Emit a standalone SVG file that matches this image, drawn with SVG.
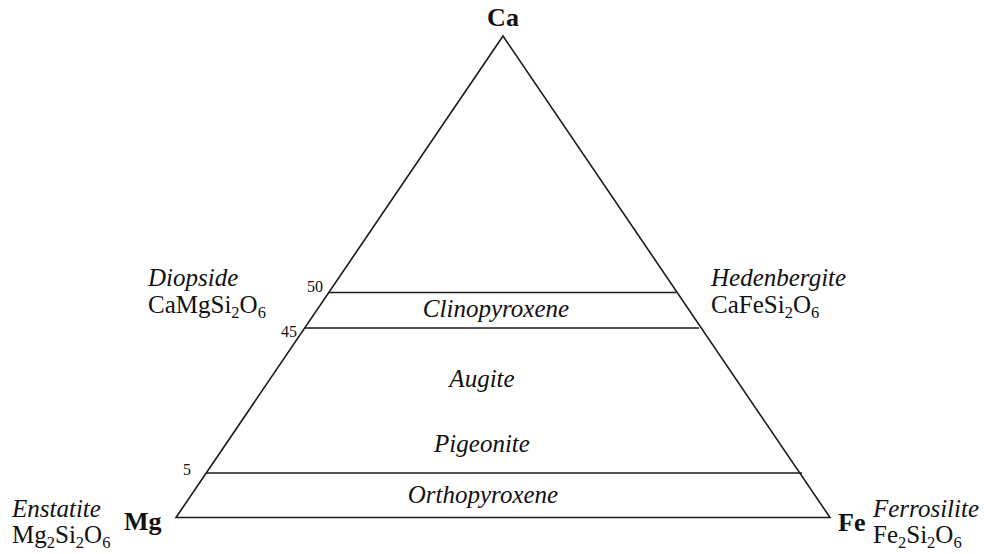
<svg xmlns="http://www.w3.org/2000/svg" width="995" height="554" viewBox="0 0 995 554">
<style>
.lab{font-size:25px}
.it{font-style:italic}
.b{font-weight:bold;font-size:26px}
.num{font-size:16px}
.sub{font-size:16.5px}
.ln{stroke:#1a1a1a;stroke-width:1.6;fill:none}
</style>
<rect width="995" height="554" fill="#fff"/>
<g id="connectors">
<polygon class="ln" points="503,36 176,517.5 830,517.5"/>
<line class="ln" x1="329" y1="292.5" x2="676" y2="292.5"/>
<line class="ln" x1="304" y1="328" x2="699" y2="328"/>
<line class="ln" x1="206" y1="473" x2="802" y2="473"/>
</g>
<g font-family="Liberation Serif, serif" fill="#111">
<g id="apex-ca"><text class="b" x="503" y="26" text-anchor="middle">Ca</text></g>
<g id="corner-mg"><text class="b" x="124" y="530">Mg</text></g>
<g id="corner-fe"><text class="b" x="838" y="531">Fe</text></g>
<g id="diopside">
<text class="lab it" x="148" y="286">Diopside</text>
<text class="lab" x="148" y="313">CaMgSi<tspan class="sub" dy="5">2</tspan><tspan dy="-5">O</tspan><tspan class="sub" dy="5">6</tspan></text>
</g>
<g id="hedenbergite">
<text class="lab it" x="711" y="286">Hedenbergite</text>
<text class="lab" x="711" y="313">CaFeSi<tspan class="sub" dy="5">2</tspan><tspan dy="-5">O</tspan><tspan class="sub" dy="5">6</tspan></text>
</g>
<g id="enstatite">
<text class="lab it" x="12" y="517">Enstatite</text>
<text class="lab" x="12" y="543">Mg<tspan class="sub" dy="5">2</tspan><tspan dy="-5">Si</tspan><tspan class="sub" dy="5">2</tspan><tspan dy="-5">O</tspan><tspan class="sub" dy="5">6</tspan></text>
</g>
<g id="ferrosilite">
<text class="lab it" x="873" y="517">Ferrosilite</text>
<text class="lab" x="873" y="543">Fe<tspan class="sub" dy="5">2</tspan><tspan dy="-5">Si</tspan><tspan class="sub" dy="5">2</tspan><tspan dy="-5">O</tspan><tspan class="sub" dy="5">6</tspan></text>
</g>
<g id="ticks">
<text class="num" x="323" y="292" text-anchor="end">50</text>
<text class="num" x="297" y="337" text-anchor="end">45</text>
<text class="num" x="191" y="475" text-anchor="end">5</text>
</g>
<g id="clinopyroxene"><text class="lab it" x="496" y="317" text-anchor="middle">Clinopyroxene</text></g>
<g id="augite"><text class="lab it" x="482" y="387" text-anchor="middle">Augite</text></g>
<g id="pigeonite"><text class="lab it" x="482" y="452" text-anchor="middle">Pigeonite</text></g>
<g id="orthopyroxene"><text class="lab it" x="483" y="503" text-anchor="middle">Orthopyroxene</text></g>
</g>
</svg>
